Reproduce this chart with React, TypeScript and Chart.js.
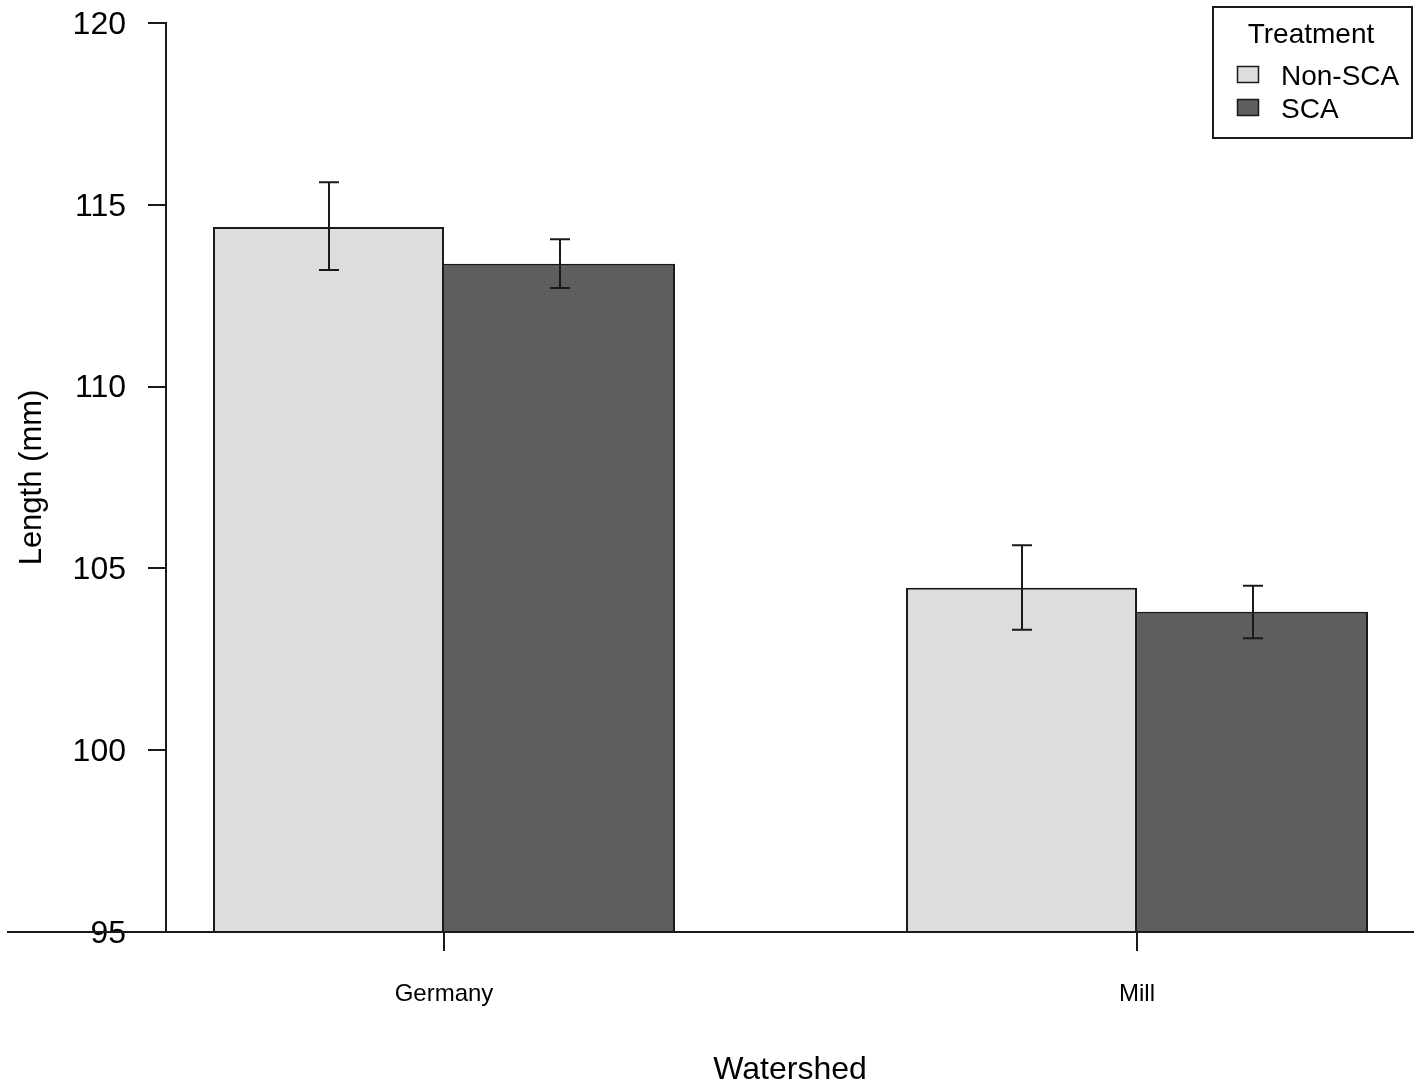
import React, { useEffect, useRef } from 'react';
import { Chart, registerables } from 'chart.js';

Chart.register(...registerables);

// ---- Data ----
const categories = ['Germany', 'Mill'];
const seriesNames = ['Non-SCA', 'SCA'];
const nonScaMeans = [114.39, 104.47];
const scaMeans = [113.38, 103.81];
const nonScaLower = [113.21, 103.31];
const nonScaUpper = [115.62, 105.64];
const scaLower = [112.71, 103.08];
const scaUpper = [114.05, 104.52];
const yTicks = [95, 100, 105, 110, 115, 120];
const xTitle = 'Watershed';
const yTitle = 'Length (mm)';
const legendTitle = 'Treatment';

const FONT = '"Liberation Sans", Arial, Helvetica, sans-serif';
const INK = '#1a1a1a';
const seriesColors = ['#dddddd', '#5e5e5e'];

const groupPos = (i: number) => i * 3 + 1.5;

const errorBarPlugin = {
  id: 'errorBars',
  afterDatasetsDraw(chart: any) {
    const { ctx } = chart;
    const yScale = chart.scales.y;
    ctx.save();
    ctx.strokeStyle = INK;
    ctx.lineWidth = 2;
    chart.data.datasets.forEach((ds: any, di: number) => {
      const meta = chart.getDatasetMeta(di);
      meta.data.forEach((bar: any, i: number) => {
        const x = Math.round(bar.x);
        const yl = yScale.getPixelForValue(ds.errLow[i]);
        const yh = yScale.getPixelForValue(ds.errHigh[i]);
        ctx.beginPath();
        ctx.moveTo(x, yl);
        ctx.lineTo(x, yh);
        ctx.moveTo(x - 10, yl);
        ctx.lineTo(x + 10, yl);
        ctx.moveTo(x - 10, yh);
        ctx.lineTo(x + 10, yh);
        ctx.stroke();
      });
    });
    // baseline across full width
    const y0 = Math.round(yScale.getPixelForValue(yTicks[0]));
    ctx.lineWidth = 2;
    ctx.beginPath();
    ctx.moveTo(7, y0);
    ctx.lineTo(chart.width, y0);
    ctx.stroke();
    ctx.restore();
  },
};

const legendPlugin = {
  id: 'boxLegend',
  afterDraw(chart: any) {
    const { ctx } = chart;
    ctx.save();
    ctx.strokeStyle = INK;
    ctx.lineWidth = 2;
    ctx.strokeRect(1213, 7, 199, 131);
    ctx.font = `28px ${FONT}`;
    ctx.fillStyle = '#000';
    ctx.textAlign = 'center';
    ctx.textBaseline = 'middle';
    ctx.fillText(legendTitle, 1311, 35);
    chart.data.datasets.forEach((ds: any, i: number) => {
      const y = 74 + i * 33;
      ctx.fillStyle = ds.backgroundColor;
      ctx.fillRect(1237, y - 8, 21, 16);
      ctx.lineWidth = 1.5;
      ctx.strokeRect(1237.5, y - 7.5, 21, 16);
      ctx.fillStyle = '#000';
      ctx.textAlign = 'left';
      ctx.fillText(ds.label, 1281, y + 3);
    });
    ctx.restore();
  },
};

export default function App() {
  const canvasRef = useRef<HTMLCanvasElement | null>(null);

  useEffect(() => {
    const canvas = canvasRef.current;
    if (!canvas) return;
    const chart = new Chart(canvas, {
      type: 'bar',
      data: {
        datasets: [
          {
            label: seriesNames[0],
            data: categories.map((_, i) => ({ x: groupPos(i), y: nonScaMeans[i] })),
            backgroundColor: seriesColors[0],
            borderColor: INK,
            borderWidth: { top: 2, left: 2, right: 2, bottom: 0 },
            errLow: nonScaLower,
            errHigh: nonScaUpper,
          } as any,
          {
            label: seriesNames[1],
            data: categories.map((_, i) => ({ x: groupPos(i), y: scaMeans[i] })),
            backgroundColor: seriesColors[1],
            borderColor: INK,
            borderWidth: { top: 2, left: 0, right: 2, bottom: 0 },
            errLow: scaLower,
            errHigh: scaUpper,
          } as any,
        ],
      },
      options: {
        animation: false,
        responsive: false,
        maintainAspectRatio: false,
        categoryPercentage: 2 / 3,
        barPercentage: 1,
        layout: { padding: { top: 23, left: 0, right: 0, bottom: 0 } },
        plugins: {
          legend: { display: false },
          tooltip: { enabled: false },
          title: { display: false },
        },
        scales: {
          x: {
            type: 'linear',
            min: 0.2965,
            max: 5.699,
            offset: false,
            border: { display: false },
            grid: {
              offset: false,
              drawOnChartArea: false,
              drawTicks: true,
              tickLength: 19,
              color: INK,
              lineWidth: 2,
            },
            afterBuildTicks: (scale: any) => {
              scale.ticks = categories.map((_, i) => ({ value: groupPos(i) }));
            },
            afterFit: (scale: any) => {
              scale.height = 157;
              scale.paddingLeft = 0;
              scale.paddingRight = 0;
            },
            ticks: {
              autoSkip: false,
              maxRotation: 0,
              minRotation: 0,
              padding: 29,
              color: '#000',
              font: { family: FONT, size: 24 },
              callback: (value: any) => {
                const idx = categories.findIndex((_, i) => Math.abs(groupPos(i) - value) < 1e-6);
                return idx >= 0 ? categories[idx] : '';
              },
            },
            title: {
              display: true,
              text: xTitle,
              color: '#000',
              font: { family: FONT, size: 32 },
              padding: { top: 0, bottom: 0 },
            },
          },
          y: {
            type: 'linear',
            min: 95,
            max: 120,
            border: { display: true, color: INK, width: 2 },
            grid: {
              drawOnChartArea: false,
              drawTicks: true,
              tickLength: 18,
              color: INK,
              lineWidth: 2,
            },
            afterBuildTicks: (scale: any) => {
              scale.ticks = yTicks.map((v) => ({ value: v }));
            },
            afterFit: (scale: any) => {
              scale.width = 166;
              scale.paddingTop = 0;
              scale.paddingBottom = 0;
            },
            ticks: {
              padding: 22,
              labelOffset: 2,
              color: '#000',
              font: { family: FONT, size: 32 },
              callback: (value: any) => String(value),
            },
            title: {
              display: true,
              text: yTitle,
              color: '#000',
              font: { family: FONT, size: 31 },
              padding: { top: 14, bottom: 0 },
            },
          },
        },
      } as any,
      plugins: [errorBarPlugin, legendPlugin],
    });
    return () => chart.destroy();
  }, []);

  return (
    <div style={{ position: 'absolute', left: 0, top: 0, width: 1414, height: 1089, background: '#fff' }}>
      <canvas ref={canvasRef} width={1414} height={1089} style={{ display: 'block' }} />
    </div>
  );
}
